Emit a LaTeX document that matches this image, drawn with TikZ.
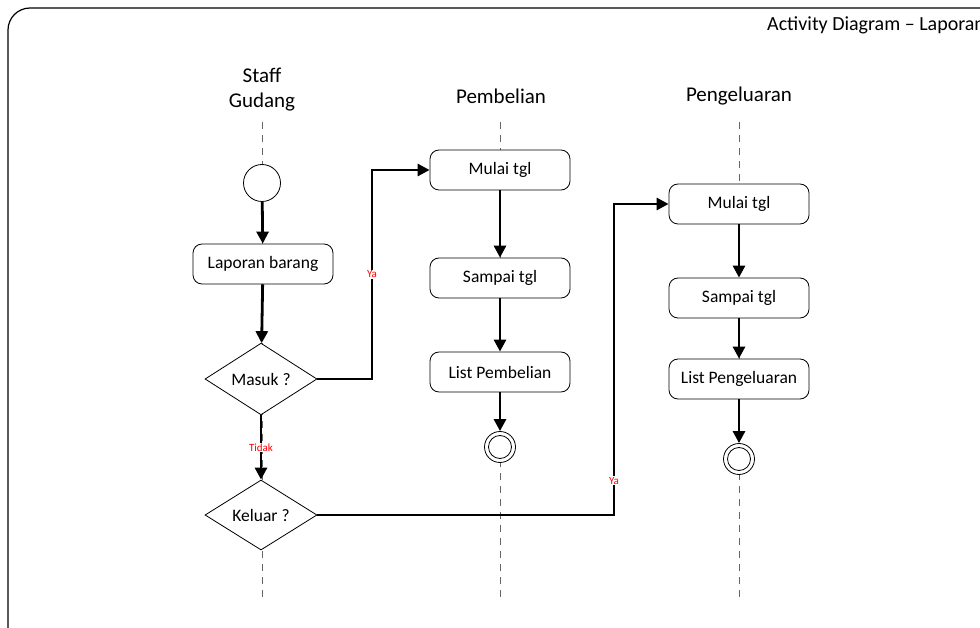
\documentclass[tikz,border=0pt]{standalone}
\usepackage{fontspec}
\setmainfont{Carlito}
\usetikzlibrary{arrows.meta,shapes.geometric}
\begin{document}
\begin{tikzpicture}[x=1pt,y=-1pt,
  actbox/.style={draw,line width=0.8pt,rounded corners=9pt,minimum width=140pt,minimum height=40pt,font=\fontsize{17.5}{20}\selectfont,inner sep=0pt,fill=white},
  decis/.style={draw,line width=0.8pt,diamond,minimum width=112pt,minimum height=70pt,inner sep=0pt,font=\fontsize{17.5}{20}\selectfont,fill=white},
  flow/.style={line width=2.8pt,-{Triangle[length=12pt,width=12pt]}},
  life/.style={dash pattern=on 7pt off 6pt,line width=0.6pt,gray!80!black},
  lane/.style={font=\fontsize{21}{25}\selectfont,align=center},
  guard/.style={text=red,font=\fontsize{11}{12}\selectfont,fill=white,inner sep=1pt}]
\useasboundingbox (0,0) rectangle (980,628);
\clip (0,0) rectangle (980,628);
% frame
\draw[line width=1.2pt,rounded corners=22pt] (1100,8) -- (8,8) -- (8,700);
\node[anchor=west,font=\fontsize{20}{23}\selectfont,inner sep=0pt] (title) at (767,25) {Activity Diagram – Laporan};
% lane labels
\node[lane] (lsg) at (262,90) {Staff\\Gudang};
\node[lane] (lpb) at (501,96) {Pembelian};
\node[lane] (lpg) at (739,96) {Pengeluaran};
% lifelines
\coordinate (a1) at (262,122); \coordinate (a2) at (262,602);
\coordinate (b1) at (500,122); \coordinate (b2) at (500,602);
\coordinate (c1) at (739,122); \coordinate (c2) at (739,602);
\draw[life] (a1) -- (a2);
\draw[life] (b1) -- (b2);
\draw[life] (c1) -- (c2);
% nodes
\node[draw,circle,line width=0.8pt,minimum size=37pt,fill=white] (start) at (262,183) {};
\node[actbox] (lap) at (263,264) {Laporan barang};
\node[decis] (masuk) at (261,379) {Masuk ?};
\node[decis] (keluar) at (261,515) {Keluar ?};
\node[actbox] (pm) at (500,170) {Mulai tgl};
\node[actbox] (ps) at (500,278) {Sampai tgl};
\node[actbox] (pl) at (500,372) {List Pembelian};
\node[draw,circle,line width=0.8pt,minimum size=31pt,fill=white] (pend) at (500,447) {};
\node[draw,circle,line width=0.8pt,minimum size=23pt] at (pend) {};
\node[actbox] (gm) at (739,204) {Mulai tgl};
\node[actbox] (gs) at (739,298) {Sampai tgl};
\node[actbox] (gl) at (739,379) {List Pengeluaran};
\node[draw,circle,line width=0.8pt,minimum size=31pt,fill=white] (gend) at (739,459) {};
\node[draw,circle,line width=0.8pt,minimum size=23pt] at (gend) {};
% flows
\draw[flow] (start) -- (lap);
\draw[flow] (lap) -- (masuk);
\draw[flow] (masuk.east) -- (372,379) -- node[guard,pos=0.5]{Ya} (372,170) -- (pm.west);
\draw[flow] (masuk) -- node[guard,pos=0.5]{Tidak} (keluar);
\draw[flow] (keluar.east) -- (614,515) -- node[guard,pos=0.11]{Ya} (614,204) -- (gm.west);
\draw[flow] (pm) -- (ps);
\draw[flow] (ps) -- (pl);
\draw[flow] (pl) -- (pend);
\draw[flow] (gm) -- (gs);
\draw[flow] (gs) -- (gl);
\draw[flow] (gl) -- (gend);
\end{tikzpicture}
\end{document}
